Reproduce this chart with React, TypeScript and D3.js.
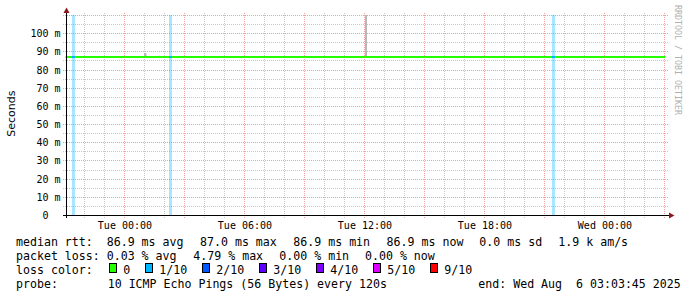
import React from "react";
import * as d3 from "d3";

// ---- data ----
const timeStart = "2025-08-04T21:03:45Z";
const timeEnd = "2025-08-06T03:03:45Z";
const yMax = 110; // ms

// median rtt samples (ms)
const medianTimes = [
  "2025-08-04T21:03:45Z", "2025-08-05T00:00:00Z", "2025-08-05T03:00:00Z", "2025-08-05T06:00:00Z",
  "2025-08-05T09:00:00Z", "2025-08-05T12:00:00Z", "2025-08-05T15:00:00Z", "2025-08-05T18:00:00Z",
  "2025-08-05T21:00:00Z", "2025-08-06T00:00:00Z", "2025-08-06T03:03:45Z",
];
const medianRtt = [86.9, 86.9, 86.9, 86.9, 86.9, 86.9, 86.9, 86.9, 86.9, 86.9, 86.9];

// loss events (fraction index into lossColors)
const lossStarts = ["2025-08-04T21:23:15Z", "2025-08-05T02:14:15Z", "2025-08-05T21:23:15Z"];
const lossEnds = ["2025-08-04T21:32:15Z", "2025-08-05T02:23:15Z", "2025-08-05T21:32:15Z"];
const lossLevel = [1, 1, 1];

// smoke (ping spread above the median), ms
const smokeStarts = ["2025-08-05T00:59:15Z", "2025-08-05T01:44:00Z", "2025-08-05T12:02:15Z"];
const smokeEnds = ["2025-08-05T01:06:45Z", "2025-08-05T01:48:00Z", "2025-08-05T12:08:15Z"];
const smokeLow = [86.9, 86.9, 86.9];
const smokeHigh = [89.0, 87.6, 130];

const yTicksMajor = [0, 10, 20, 30, 40, 50, 60, 70, 80, 90, 100, 110];

const lossColors = ["#26ff00", "#00b8ff", "#0059ff", "#5e00ff", "#7e00ff", "#dd00ff", "#ff0000"];
const lossLabels = ["0", "1/10", "2/10", "3/10", "4/10", "5/10", "9/10"];

const rttLabel = "median rtt:";
const rttStats = ["86.9 ms avg", "87.0 ms max", "86.9 ms min", "86.9 ms now", "0.0 ms sd", "1.9 k am/s"];
const lossLabel = "packet loss:";
const lossStats = ["0.03 % avg", "4.79 % max", "0.00 % min", "0.00 % now"];
const colorLabel = "loss color:";
const probeLabel = "probe:";
const probeText = "10 ICMP Echo Pings (56 Bytes) every 120s";
const endText = "end: Wed Aug  6 03:03:45 2025";
const yTitle = "Seconds";
const watermark = "RRDTOOL / TOBI OETIKER";

// ---- layout ----
const W = 697, H = 297;
const PL = 65.5, PR = 665.5, PT = 15, PB = 215;
const rttX = [106.7, 200, 293.3, 386.6, 479.3, 558.3];
const lossX = [106.7, 193.3, 279.3, 365];
const legendRows = [245.5, 259.5, 273.5, 287.5];
const MONO = "'DejaVu Sans Mono', monospace";
const SANS = "'DejaVu Sans', sans-serif";

export default function App() {
  const p = (s: string) => new Date(s);
  const x = d3.scaleUtc().domain([p(timeStart), p(timeEnd)]).range([PL, PR]);
  const y = d3.scaleLinear().domain([0, yMax]).range([PB, PT]);

  const hours = x.ticks(d3.utcHour.every(1) as any);
  const minorX = hours.filter((t) => t.getUTCHours() % 3 !== 0);
  const majorX = hours.filter((t) => t.getUTCHours() % 3 === 0);
  const labelX = hours.filter((t) => t.getUTCHours() % 6 === 0);
  const fmt = d3.utcFormat("%a %H:%M");

  const minorY = d3.range(5, yMax + 1, 10);
  const px = (v: number) => Math.round(v) + 0.5;

  const medianData = medianTimes.map((t, i) => [x(p(t)), y(medianRtt[i])] as [number, number]);
  const line = d3.line().curve(d3.curveStepAfter);

  const gridGray = "#c8c8c8";
  const gridRed = "#eea0a0";

  // loss color legend layout
  let cx = 109.3;
  const boxes = lossLabels.map((lab, i) => {
    const b = { x: cx, lx: cx + 14, lab, col: lossColors[i] };
    cx = cx + 14 + lab.length * 7 + 15;
    return b;
  });

  return (
    <svg width={W} height={H} style={{ position: "absolute", left: 0, top: 0, background: "#fff" }}>
      <rect x={0} y={0} width={W} height={H} fill="#fff" />
      {/* grid */}
      <g strokeDasharray="1,1" strokeWidth={1}>
        {minorY.map((v) => (
          <line key={"my" + v} x1={63} x2={669} y1={px(y(v))} y2={px(y(v))} stroke={gridGray} />
        ))}
        {minorX.map((t) => (
          <line key={"mx" + +t} x1={px(x(t))} x2={px(x(t))} y1={13} y2={218} stroke={gridGray} />
        ))}
        {yTicksMajor.filter((v) => v > 0).map((v) => (
          <line key={"My" + v} x1={63} x2={669} y1={px(y(v))} y2={px(y(v))} stroke={gridRed} />
        ))}
        {majorX.map((t) => (
          <line key={"Mx" + +t} x1={px(x(t))} x2={px(x(t))} y1={13} y2={218} stroke={gridRed} />
        ))}
      </g>

      {/* loss background bars */}
      {lossStarts.map((s, i) => (
        <rect key={"lb" + i} x={x(p(s))} width={x(p(lossEnds[i])) - x(p(s))} y={PT} height={PB - PT}
          fill={lossColors[lossLevel[i]]} fillOpacity={0.35} />
      ))}

      {/* smoke */}
      {smokeStarts.map((s, i) => {
        const top = Math.max(y(smokeHigh[i]), PT);
        return (
          <rect key={"sm" + i} x={x(p(s))} width={x(p(smokeEnds[i])) - x(p(s))} y={top}
            height={y(smokeLow[i]) - top} fill="#b8b8b8" />
        );
      })}

      {/* median line */}
      <path d={line(medianData) || ""} fill="none" stroke={lossColors[0]} strokeWidth={2} />
      {lossStarts.map((s, i) => (
        <line key={"ll" + i} x1={x(p(s))} x2={x(p(lossEnds[i]))} y1={y(medianRtt[0])} y2={y(medianRtt[0])}
          stroke={lossColors[lossLevel[i]]} strokeWidth={2} />
      ))}

      {/* axes */}
      <line x1={66.5} x2={66.5} y1={12} y2={218} stroke="#000" />
      <line x1={63} x2={670} y1={215.5} y2={215.5} stroke="#000" />
      <path d="M66.5,7.5 L63.5,13 L69.5,13 Z" fill="#8b1a1a" />
      <path d="M674.5,215.5 L669,212.5 L669,218.5 Z" fill="#8b1a1a" />

      {/* y tick labels */}
      <g fontFamily={MONO} fontSize={10} fill="#000" textAnchor="end" style={{ whiteSpace: "pre" }}>
        {yTicksMajor.filter((v) => v < yMax).map((v) => (
          <text key={"yl" + v} x={60.5} y={px(y(v)) + 3.5} xmlSpace="preserve">
            {v === 0 ? "0  " : `${v} m`}
          </text>
        ))}
      </g>
      {/* x tick labels */}
      <g fontFamily={MONO} fontSize={10} fill="#000" textAnchor="middle">
        {labelX.map((t) => (
          <text key={"xl" + +t} x={x(t) + 0.7} y={228.5}>{fmt(t)}</text>
        ))}
      </g>

      {/* y title */}
      <text transform="translate(15,113.7) rotate(-90)" textAnchor="middle" fontFamily={SANS} fontSize={11}
        fill="#000">{yTitle}</text>

      {/* watermark */}
      <text transform="translate(683,5) rotate(90)" fontFamily={MONO} fontSize={8.3} fill="#b0b0b0"
        dominantBaseline="text-before-edge">{watermark}</text>

      {/* legend */}
      <g fontFamily={MONO} fontSize={11.6} fill="#000" style={{ whiteSpace: "pre" }}>
        <text x={16} y={legendRows[0]}>{rttLabel}</text>
        {rttStats.map((s, i) => (
          <text key={"rs" + i} x={rttX[i]} y={legendRows[0]}>{s}</text>
        ))}
        <text x={16} y={legendRows[1]}>{lossLabel}</text>
        {lossStats.map((s, i) => (
          <text key={"ls" + i} x={lossX[i]} y={legendRows[1]}>{s}</text>
        ))}
        <text x={16} y={legendRows[2]}>{colorLabel}</text>
        {boxes.map((b, i) => (
          <g key={"bx" + i}>
            <rect x={Math.round(b.x) + 0.5} y={263.5} width={7} height={9} fill={b.col} stroke="#000" />
            <text x={b.lx} y={legendRows[2]}>{b.lab}</text>
          </g>
        ))}
        <text x={16} y={legendRows[3]}>{probeLabel}</text>
        <text x={107.7} y={legendRows[3]}>{probeText}</text>
        <text x={478.3} y={legendRows[3]} xmlSpace="preserve">{endText}</text>
      </g>
    </svg>
  );
}
